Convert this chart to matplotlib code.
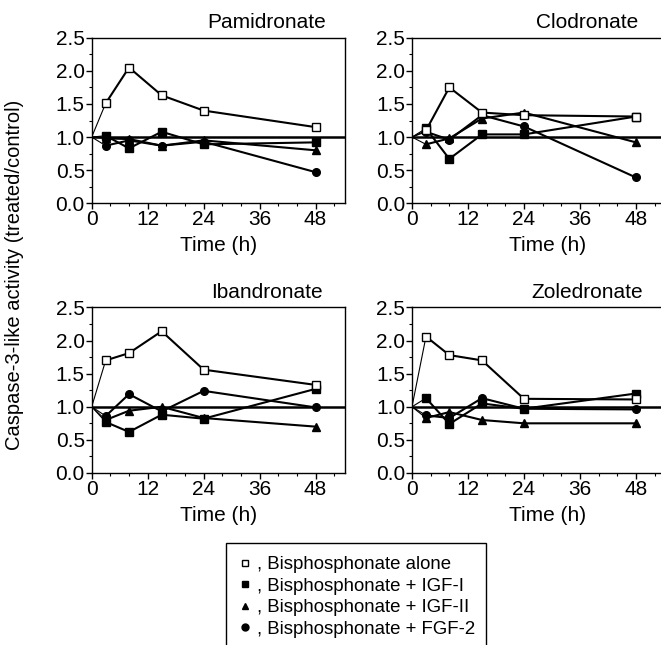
import matplotlib
matplotlib.use('Agg')
import matplotlib.pyplot as plt
from matplotlib.lines import Line2D
from matplotlib.patches import Rectangle
from matplotlib.ticker import MultipleLocator, FormatStrFormatter

plt.rcParams.update({'font.family': ['Liberation Sans', 'DejaVu Sans'], 'font.size': 15,
                     'xtick.labelsize': 15, 'ytick.labelsize': 15})

time_h = [0, 3, 8, 15, 24, 48]

drugs = ['Pamidronate', 'Clodronate', 'Ibandronate', 'Zoledronate']

alone = {'Pamidronate': [1.0, 1.51, 2.05, 1.63, 1.40, 1.15],
         'Clodronate': [1.0, 1.10, 1.75, 1.37, 1.33, 1.31],
         'Ibandronate': [1.0, 1.70, 1.81, 2.14, 1.56, 1.33],
         'Zoledronate': [1.0, 2.06, 1.78, 1.70, 1.12, 1.11]}
igf1 = {'Pamidronate': [1.0, 1.02, 0.83, 1.08, 0.89, 0.92],
        'Clodronate': [1.0, 1.13, 0.67, 1.04, 1.04, 1.31],
        'Ibandronate': [1.0, 0.77, 0.62, 0.88, 0.82, 1.27],
        'Zoledronate': [1.0, 1.13, 0.74, 1.05, 0.97, 1.20]}
igf2 = {'Pamidronate': [1.0, 0.98, 0.97, 0.87, 0.95, 0.80],
        'Clodronate': [1.0, 0.89, 0.98, 1.28, 1.37, 0.92],
        'Ibandronate': [1.0, 0.80, 0.94, 1.00, 0.83, 0.70],
        'Zoledronate': [1.0, 0.83, 0.92, 0.80, 0.75, 0.75]}
fgf2 = {'Pamidronate': [1.0, 0.87, 0.95, 0.87, 0.93, 0.47],
        'Clodronate': [1.0, 1.08, 0.96, 1.33, 1.16, 0.39],
        'Ibandronate': [1.0, 0.86, 1.19, 0.93, 1.24, 0.99],
        'Zoledronate': [1.0, 0.87, 0.83, 1.13, 0.97, 0.96]}

legend_labels = [', Bisphosphonate alone', ', Bisphosphonate + IGF-I',
                 ', Bisphosphonate + IGF-II', ', Bisphosphonate + FGF-2']

series = [(alone, 's', 'white'), (igf1, 's', 'black'),
          (igf2, '^', 'black'), (fgf2, 'o', 'black')]

fig = plt.figure(figsize=(6.61, 6.45), dpi=100)
W, H = 661, 645
positions = {'Pamidronate': (91.7, 203.3), 'Clodronate': (412, 203.3),
             'Ibandronate': (91.7, 473), 'Zoledronate': (412, 473)}
xlab_pos = {'Pamidronate': 0.50, 'Clodronate': 0.537,
            'Ibandronate': 0.50, 'Zoledronate': 0.537}
aw, ah = 253.3, 165.6

for drug in drugs:
    x0, yb = positions[drug]
    ax = fig.add_axes([x0 / W, 1 - yb / H, aw / W, ah / H])
    ax.axhline(1.0, color='black', lw=1.8, zorder=1)
    for data, mk, fc in reversed(series):
        y = data[drug]
        ax.plot(time_h[:2], y[:2], color='black', lw=0.8, zorder=2)
        ax.plot(time_h[1:], y[1:], color='black', lw=1.5, marker=mk, ms=5.5,
                mfc=fc, mec='black', mew=1.0, zorder=3, clip_on=False)
    ax.set_xlim(0, 54.3)
    ax.set_ylim(0, 2.5)
    ax.xaxis.set_major_locator(MultipleLocator(12))
    ax.xaxis.set_minor_locator(MultipleLocator(4))
    ax.yaxis.set_major_locator(MultipleLocator(0.5))
    ax.yaxis.set_minor_locator(MultipleLocator(0.25))
    ax.yaxis.set_major_formatter(FormatStrFormatter('%.1f'))
    ax.tick_params(which='major', direction='out', length=4, width=1, pad=1)
    ax.tick_params(which='minor', direction='out', length=2.5, width=0.8)
    for sp in ax.spines.values():
        sp.set_linewidth(1.0)
    ax.text(0.69, 1.09, drug, transform=ax.transAxes, ha='center', va='center', fontsize=15)
    ax.text(xlab_pos[drug], -0.255, 'Time (h)', transform=ax.transAxes,
            ha='center', va='center', fontsize=15)

fig.text(15 / W, 1 - 275 / H, 'Caspase-3-like activity (treated/control)',
         rotation=90, ha='center', va='center', fontsize=14.5)

# legend box (its lower edge runs past the bottom of the figure)
fig.patches.append(Rectangle((226 / W, -10 / H), 260 / W, (645 + 10 - 543) / H,
                             transform=fig.transFigure, fill=False,
                             edgecolor='black', lw=1.0))
handles = [Line2D([], [], ls='none', marker=mk, ms=5, mfc=fc, mec='black', mew=1.0)
           for _, mk, fc in series]
leg = fig.legend(handles, legend_labels, loc='upper left',
                 bbox_to_anchor=(226 / W, 1 - 547 / H), fontsize=13.4,
                 frameon=False, handlelength=1.0, handletextpad=0.15,
                 borderpad=0.5, labelspacing=0.24, borderaxespad=0)

fig.savefig('out.png', dpi=100)
